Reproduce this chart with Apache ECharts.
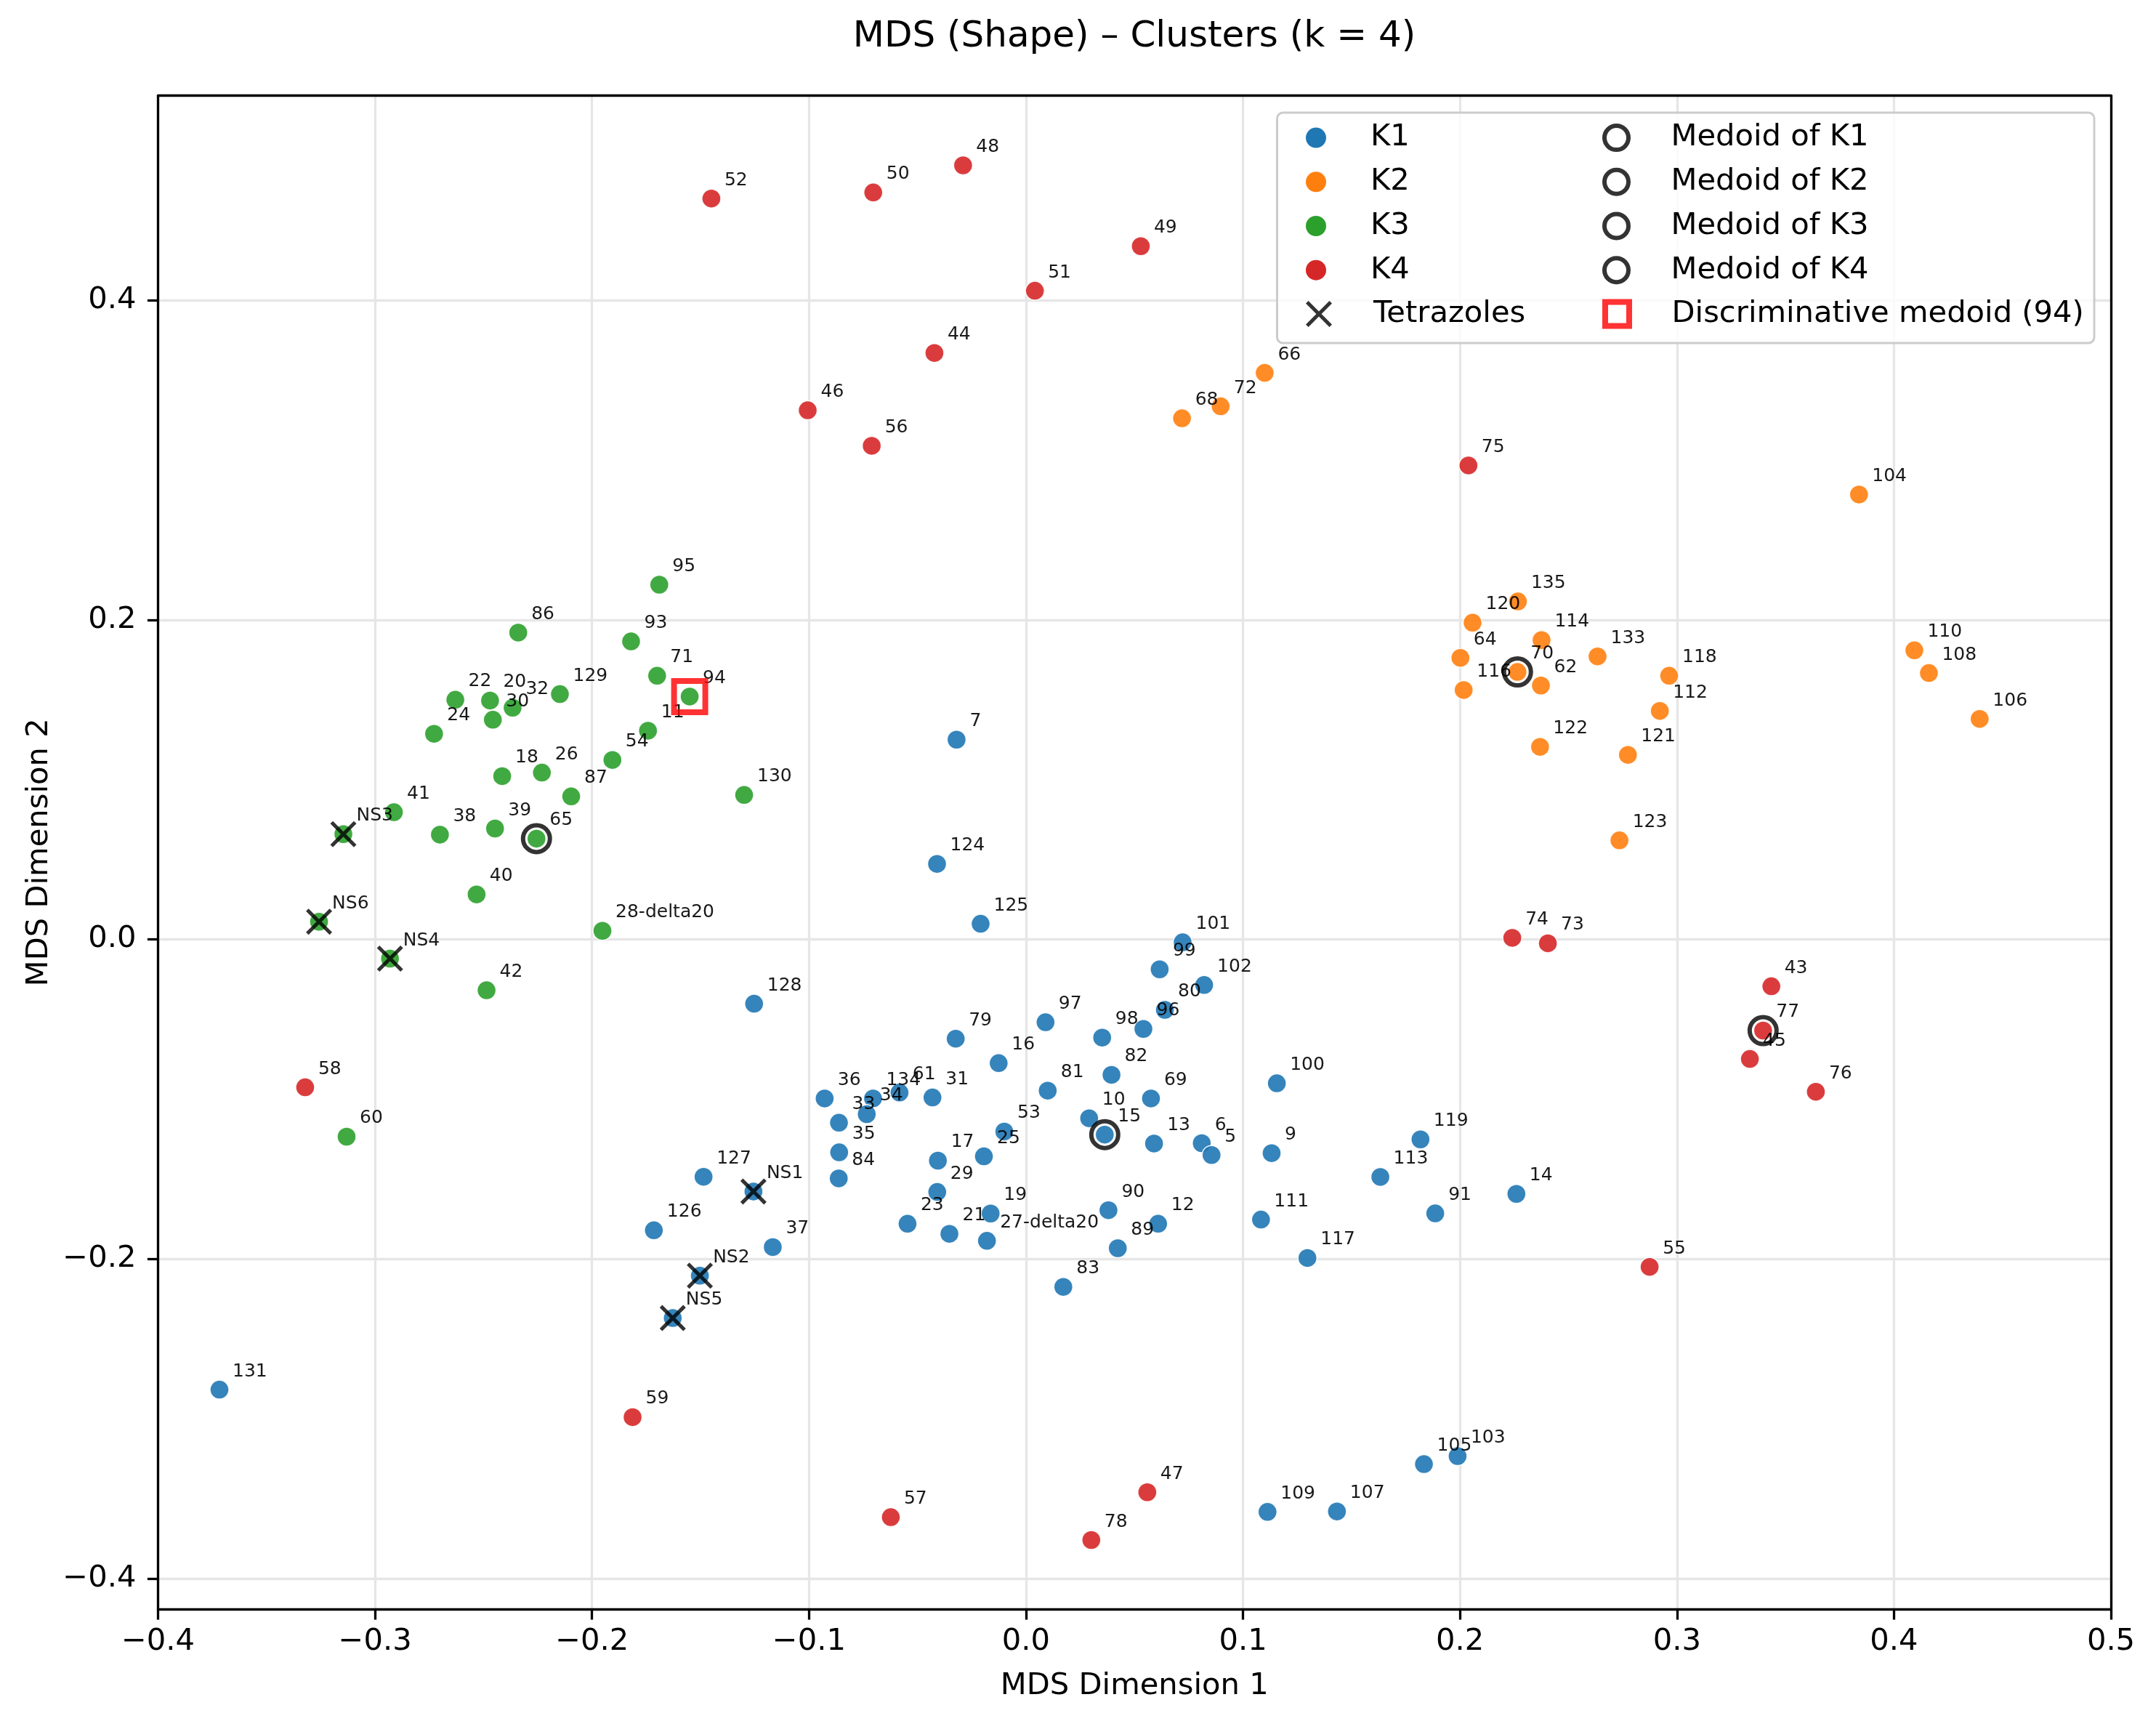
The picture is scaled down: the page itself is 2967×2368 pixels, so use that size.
<!DOCTYPE html>
<html><head><meta charset="utf-8">
<script src="https://cdn.jsdelivr.net/npm/echarts@6/dist/echarts.min.js"></script>
<style>html,body{margin:0;padding:0;background:#fff}#c{width:2967px;height:2368px}</style>
</head><body><div id="c"></div>
<script>
const FONT = 'DejaVu Sans';
const clusterNames = ['K1', 'K2', 'K3', 'K4'];
const clusterColors = ['#1f77b4', '#ff7f0e', '#2ca02c', '#d62728'];

// [label, MDS dim 1, MDS dim 2]
const k1Points = [
  ['7', -0.032, 0.125], ['124', -0.041, 0.0473], ['125', -0.0209, 0.0098],
  ['101', 0.0722, -0.0018], ['99', 0.0616, -0.0187], ['102', 0.0821, -0.0285],
  ['80', 0.0640, -0.0441], ['96', 0.0541, -0.0560], ['98', 0.0351, -0.0614],
  ['97', 0.0090, -0.0518], ['79', -0.0324, -0.0621], ['16', -0.0126, -0.0774],
  ['82', 0.0394, -0.0847], ['81', 0.0100, -0.0946], ['69', 0.0576, -0.0995],
  ['100', 0.1156, -0.0900], ['36', -0.0928, -0.0995], ['134', -0.0705, -0.0995],
  ['61', -0.0583, -0.0958], ['31', -0.0431, -0.0989], ['34', -0.0734, -0.1093],
  ['33', -0.0862, -0.1147], ['35', -0.0861, -0.1332], ['84', -0.0863, -0.1495],
  ['53', -0.0100, -0.1202], ['25', -0.0194, -0.1357], ['17', -0.0406, -0.1384],
  ['29', -0.0409, -0.1580], ['19', -0.0163, -0.1715], ['23', -0.0546, -0.1779],
  ['21', -0.0353, -0.1842], ['27-delta20', -0.0180, -0.1886], ['10', 0.0291, -0.1119],
  ['15', 0.0363, -0.1221], ['13', 0.0590, -0.1277], ['6', 0.0810, -0.1275],
  ['5', 0.0855, -0.1349], ['9', 0.1132, -0.1337], ['90', 0.0380, -0.1694],
  ['12', 0.0609, -0.1779], ['89', 0.0423, -0.1932], ['83', 0.0172, -0.2174],
  ['111', 0.1083, -0.1753], ['117', 0.1297, -0.1993], ['113', 0.1633, -0.1486],
  ['119', 0.1818, -0.1251], ['91', 0.1886, -0.1714], ['14', 0.2260, -0.1592],
  ['128', -0.1253, -0.0402], ['127', -0.1486, -0.1485], ['NS1', -0.1256, -0.1577],
  ['126', -0.1715, -0.1820], ['37', -0.1167, -0.1925], ['NS2', -0.1503, -0.2104],
  ['NS5', -0.1628, -0.2369], ['131', -0.3717, -0.2817], ['105', 0.1834, -0.3283],
  ['103', 0.1989, -0.3233], ['109', 0.1113, -0.3582], ['107', 0.1433, -0.3579]
];
const k2Points = [
  ['66', 0.1100, 0.3545], ['72', 0.0897, 0.3336], ['68', 0.0719, 0.3261],
  ['104', 0.3839, 0.2784], ['135', 0.2267, 0.2115], ['120', 0.2058, 0.1982],
  ['114', 0.2376, 0.1873], ['64', 0.2002, 0.1762], ['133', 0.2634, 0.1771],
  ['70', 0.2265, 0.1674], ['62', 0.2373, 0.1589], ['116', 0.2017, 0.1561],
  ['118', 0.2964, 0.1650], ['112', 0.2921, 0.1430], ['122', 0.2369, 0.1205],
  ['121', 0.2774, 0.1155], ['123', 0.2735, 0.0620], ['110', 0.4094, 0.1809],
  ['108', 0.4161, 0.1667], ['106', 0.4395, 0.1380]
];
const k3Points = [
  ['95', -0.169, 0.222], ['86', -0.234, 0.192], ['93', -0.182, 0.1865],
  ['71', -0.170, 0.165], ['94', -0.155, 0.152], ['129', -0.2148, 0.1535],
  ['22', -0.263, 0.150], ['20', -0.247, 0.1495], ['32', -0.2366, 0.145],
  ['30', -0.2457, 0.1375], ['24', -0.2728, 0.1287], ['11', -0.1742, 0.1306],
  ['54', -0.1906, 0.1123], ['18', -0.2414, 0.1022], ['26', -0.2231, 0.1044],
  ['87', -0.2096, 0.0895], ['130', -0.1299, 0.0904], ['41', -0.2913, 0.0796],
  ['NS3', -0.3146, 0.0659], ['38', -0.2701, 0.0656], ['39', -0.2447, 0.0694],
  ['65', -0.2256, 0.0631], ['40', -0.2532, 0.0282], ['NS6', -0.3258, 0.0111],
  ['28-delta20', -0.1952, 0.0054], ['NS4', -0.2931, -0.0120], ['42', -0.2486, -0.0318],
  ['60', -0.3131, -0.1234]
];
const k4Points = [
  ['52', -0.1450, 0.4636], ['50', -0.0704, 0.4674], ['48', -0.0290, 0.4844],
  ['49', 0.0529, 0.4338], ['51', 0.0041, 0.4059], ['44', -0.0422, 0.3670],
  ['46', -0.1006, 0.3311], ['56', -0.0711, 0.3089], ['75', 0.2039, 0.2966],
  ['74', 0.2241, 0.0010], ['73', 0.2405, -0.0024], ['43', 0.3435, -0.0293],
  ['77', 0.3397, -0.0570], ['45', 0.3336, -0.0748], ['76', 0.3640, -0.0953],
  ['55', 0.2874, -0.2049], ['58', -0.3322, -0.0925], ['59', -0.1813, -0.2989],
  ['57', -0.0623, -0.3615], ['78', 0.0301, -0.3758], ['47', 0.0559, -0.3459]
];
const tetrazoleLabels = ['NS1', 'NS2', 'NS3', 'NS4', 'NS5', 'NS6'];
const medoidLabels = ['15', '70', '65', '77'];
const discriminativeLabel = '94';
const xTicks = [-0.4, -0.3, -0.2, -0.1, 0.0, 0.1, 0.2, 0.3, 0.4, 0.5];
const yTicks = [-0.4, -0.2, 0.0, 0.2, 0.4];

const clusters = [k1Points, k2Points, k3Points, k4Points];
const allPoints = [].concat(...clusters);
function find(lbl) { const p = allPoints.find(q => q[0] === lbl); return [p[1], p[2]]; }
function fmt(v) { const s = (Math.abs(v) < 1e-9 ? 0 : v).toFixed(1); return s.replace('-', '\u2212'); }

const X_PATH = 'path://M0,9.9L9.9,0L50,40.1L90.1,0L100,9.9L59.9,50L100,90.1L90.1,100L50,59.9L9.9,100L0,90.1L40.1,50Z';
const SQ_PATH = 'path://M0,0L10,0L10,10L0,10Z';

const series = [];
clusters.forEach((pts, i) => {
  series.push({
    name: clusterNames[i], type: 'scatter', z: 2,
    symbol: 'circle', symbolSize: 26,
    itemStyle: { color: clusterColors[i], opacity: 0.9, borderColor: '#ffffff', borderWidth: 1.5 },
    label: {
      show: true, position: 'inside', align: 'left', verticalAlign: 'middle',
      offset: [18, -25], fontSize: 25, fontFamily: FONT, color: '#000',
      formatter: p => p.name
    },
    emphasis: { disabled: true },
    data: pts.map(p => ({ name: p[0], value: [p[1], p[2]] }))
  });
});
series.push({
  name: 'Tetrazoles', type: 'scatter', z: 3, symbol: X_PATH, symbolSize: 36,
  itemStyle: { color: '#000' }, emphasis: { disabled: true },
  data: tetrazoleLabels.map(l => find(l))
});
medoidLabels.forEach((l, i) => {
  series.push({
    name: 'Medoid of ' + clusterNames[i], type: 'scatter', z: 4, symbol: 'circle', symbolSize: 37,
    itemStyle: { color: 'rgba(0,0,0,0)', borderColor: '#000', borderWidth: 6 },
    emphasis: { disabled: true }, data: [find(l)]
  });
});
series.push({
  name: 'Discriminative medoid (' + discriminativeLabel + ')', type: 'scatter', z: 5,
  symbol: 'rect', symbolSize: 43,
  itemStyle: { color: 'rgba(0,0,0,0)', borderColor: '#ff0000', borderWidth: 8 },
  emphasis: { disabled: true }, data: [find(discriminativeLabel)]
});

const legendText = { fontSize: 41.67, fontFamily: FONT, color: '#000', lineHeight: 44 };
const legendBase = { orient: 'vertical', padding: 0, itemWidth: 140, itemGap: 16.7, selectedMode: false, textStyle: legendText };
const LEG_COL1 = 1797;
const LEG_COL2 = 2205;

const axisLineStyle = { color: '#000', width: 3.3 };
const option = {
  animation: false,
  backgroundColor: '#ffffff',
  grid: { left: 217.5, right: 62, top: 131.6, bottom: 154 },
  xAxis: [{
    type: 'value', min: -0.4, max: 0.5, interval: 0.1,
    axisLine: { show: true, onZero: false, lineStyle: axisLineStyle },
    axisTick: { show: true, length: 14.6, lineStyle: axisLineStyle },
    axisLabel: { fontSize: 41.67, fontFamily: FONT, color: '#000', margin: 24, formatter: fmt },
    splitLine: { show: true, lineStyle: { color: '#e6e6e6', width: 3.3 } },
    name: 'MDS Dimension 1', nameLocation: 'middle', nameGap: 85,
    nameTextStyle: { fontSize: 41.67, fontFamily: FONT, color: '#000' }
  }, {
    type: 'value', position: 'top', min: -0.4, max: 0.5,
    axisLine: { show: true, onZero: false, lineStyle: axisLineStyle },
    axisTick: { show: false }, axisLabel: { show: false }, splitLine: { show: false }
  }],
  yAxis: [{
    type: 'value', min: -0.419, max: 0.528,
    axisLine: { show: true, onZero: false, lineStyle: axisLineStyle },
    axisTick: { show: true, length: 14.6, lineStyle: axisLineStyle, customValues: yTicks },
    axisLabel: { fontSize: 41.67, fontFamily: FONT, color: '#000', margin: 30, formatter: fmt, customValues: yTicks },
    splitLine: { show: true, lineStyle: { color: '#e6e6e6', width: 3.3 } },
    name: 'MDS Dimension 2', nameLocation: 'middle', nameGap: 142,
    nameTextStyle: { fontSize: 41.67, fontFamily: FONT, color: '#000' }
  }, {
    type: 'value', position: 'right', min: -0.419, max: 0.528,
    axisLine: { show: true, onZero: false, lineStyle: axisLineStyle },
    axisTick: { show: false }, axisLabel: { show: false }, splitLine: { show: false }
  }],
  legend: [
    Object.assign({}, legendBase, {
      left: LEG_COL1, top: 167.6, itemHeight: 28,
      data: clusterNames.map((n, i) => ({ name: n, icon: 'circle', itemStyle: { color: clusterColors[i], opacity: 1, borderWidth: 0 } }))
    }),
    Object.assign({}, legendBase, {
      left: LEG_COL1, top: 410, itemHeight: 36,
      data: [{ name: 'Tetrazoles', icon: X_PATH, itemStyle: { color: '#000', borderWidth: 0 } }]
    }),
    Object.assign({}, legendBase, {
      left: LEG_COL2, top: 167.6, itemHeight: 33,
      data: clusterNames.map(n => ({ name: 'Medoid of ' + n, icon: 'circle', itemStyle: { color: 'rgba(0,0,0,0)', borderColor: '#000', borderWidth: 6 } }))
    }),
    Object.assign({}, legendBase, {
      left: LEG_COL2, top: 410, itemHeight: 33,
      data: [{ name: 'Discriminative medoid (' + discriminativeLabel + ')', icon: SQ_PATH, itemStyle: { color: 'rgba(0,0,0,0)', borderColor: '#ff0000', borderWidth: 8 } }]
    })
  ],
  graphic: [
    { type: 'rect', z: 3, silent: true, shape: { x: 1757.5, y: 155, width: 1124.5, height: 317, r: 8 },
      style: { fill: 'rgba(255,255,255,0.8)', stroke: '#cccccc', lineWidth: 3 } },
    { type: 'text', z: 10, x: 1561, y: 51, silent: true,
      style: { text: 'MDS (Shape) \u2013 Clusters (k = 4)', fontSize: 50, fontFamily: FONT, fill: '#000', align: 'center', verticalAlign: 'middle' } }
  ],
  series: series
};
const chart = echarts.init(document.getElementById('c'), null, { renderer: 'canvas' });
chart.setOption(option);
</script></body></html>
